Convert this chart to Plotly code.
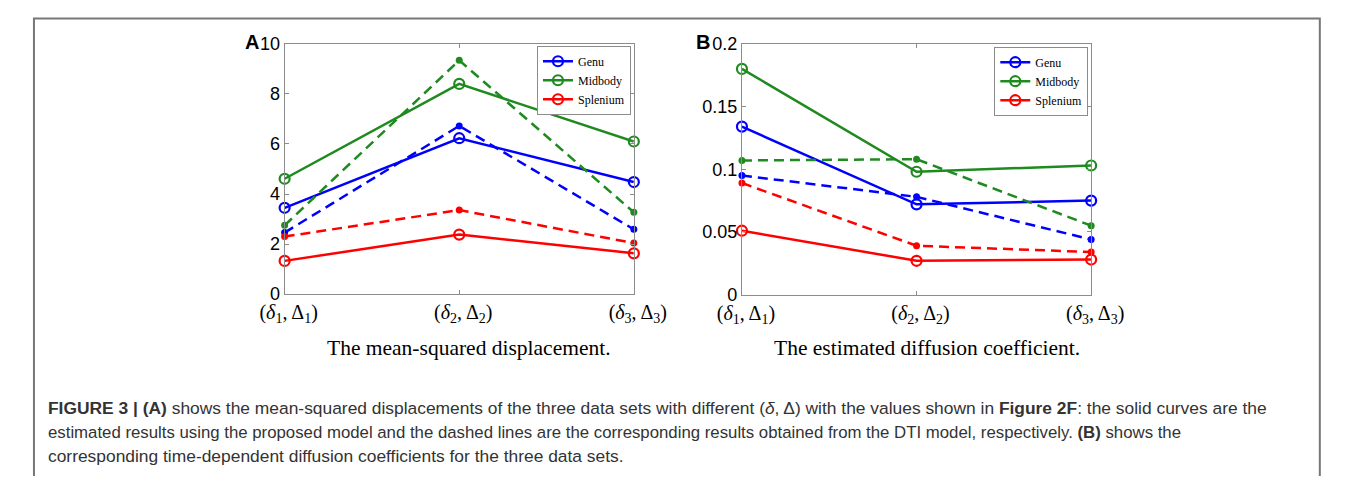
import plotly.graph_objects as go

# ---------------- data ----------------
x_pos = [1, 2, 3]
x_labels = ["(<i>δ</i><sub>1</sub>, Δ<sub>1</sub>)",
            "(<i>δ</i><sub>2</sub>, Δ<sub>2</sub>)",
            "(<i>δ</i><sub>3</sub>, Δ<sub>3</sub>)"]
series_names = ["Genu", "Midbody", "Splenium"]

# Panel A: mean-squared displacement
msd_model = {"Genu": [3.45, 6.23, 4.48],
             "Midbody": [4.61, 8.40, 6.10],
             "Splenium": [1.33, 2.38, 1.63]}
msd_dti = {"Genu": [2.46, 6.72, 2.59],
           "Midbody": [2.75, 9.34, 3.27],
           "Splenium": [2.30, 3.36, 2.04]}

# Panel B: estimated diffusion coefficient
dc_model = {"Genu": [0.134, 0.072, 0.075],
            "Midbody": [0.180, 0.098, 0.103],
            "Splenium": [0.051, 0.027, 0.028]}
dc_dti = {"Genu": [0.095, 0.078, 0.044],
          "Midbody": [0.107, 0.108, 0.055],
          "Splenium": [0.089, 0.039, 0.034]}

a_ticks = [0, 2, 4, 6, 8, 10]
b_ticks = [0, 0.05, 0.1, 0.15, 0.2]
b_ticktext = ["0", "0.05", "0.1", "0.15", "0.2"]

colors = {"Genu": "#0000ff", "Midbody": "#1f8a1f", "Splenium": "#ff0000"}

# figure size chosen so that the page (with the default 8px body margin) fits the window
OFF = 8
W, H = 1357 - 2 * OFF, 484 - 2 * OFF


def px(xp):
    return (xp - OFF) / W


def py(yp):
    return 1 - (yp - OFF) / H


fig = go.Figure()


def add_panel(model, dti, xa, ya, legend):
    for name in series_names:
        fig.add_trace(go.Scatter(
            x=x_pos, y=model[name], name=name, mode="lines+markers",
            line=dict(color=colors[name], width=2.5),
            marker=dict(symbol="circle-open", size=10, color=colors[name],
                        line=dict(width=2.2, color=colors[name])),
            xaxis=xa, yaxis=ya, legend=legend, cliponaxis=False))
    for name in series_names:
        fig.add_trace(go.Scatter(
            x=x_pos, y=dti[name], name=name + " (DTI)", mode="lines+markers",
            line=dict(color=colors[name], width=2.5, dash="10px,6px"),
            marker=dict(symbol="circle", size=7, color=colors[name]),
            xaxis=xa, yaxis=ya, showlegend=False, cliponaxis=False))


add_panel(msd_model, msd_dti, "x", "y", "legend")
add_panel(dc_model, dc_dti, "x2", "y2", "legend2")

axis_common = dict(showgrid=False, zeroline=False, showline=True,
                   linecolor="#8c8c8c", linewidth=1, mirror="ticks",
                   ticks="inside", ticklen=4, tickcolor="#8c8c8c")

xfont = dict(family="Liberation Serif", size=20, color="black")
yfont = dict(family="Liberation Sans", size=18, color="black")
legfont = dict(family="Liberation Serif", size=12, color="black")

fig.update_layout(
    width=W, height=H,
    margin=dict(l=0, r=0, t=0, b=0),
    paper_bgcolor="white", plot_bgcolor="white",
    xaxis=dict(domain=[px(271), px(636)], range=[1, 3], tickvals=x_pos,
               ticktext=x_labels, tickfont=xfont, anchor="y", ticklabelshift=4,
               **axis_common),
    yaxis=dict(domain=[py(296.5), py(35)], range=[0, 10], tickvals=a_ticks,
               tickfont=yfont, anchor="x", **axis_common),
    xaxis2=dict(domain=[px(749), px(1114)], range=[1, 3], tickvals=x_pos,
                ticktext=x_labels, tickfont=xfont, anchor="y2", ticklabelshift=4,
                **axis_common),
    yaxis2=dict(domain=[py(297), py(35)], range=[0, 0.2], tickvals=b_ticks,
                ticktext=b_ticktext, tickfont=yfont, anchor="x2", **axis_common),
    legend=dict(x=px(633), y=py(37), xanchor="right", yanchor="top",
                bgcolor="white", bordercolor="#8c8c8c", borderwidth=1,
                font=legfont, tracegroupgap=0, itemwidth=30),
    legend2=dict(x=px(1111), y=py(38), xanchor="right", yanchor="top",
                 bgcolor="white", bordercolor="#8c8c8c", borderwidth=1,
                 font=legfont, tracegroupgap=0, itemwidth=30),
    showlegend=True,
)

annots = []
# panel letters
annots.append(dict(text="<b>A</b>", x=px(246), y=py(33), xref="paper", yref="paper",
                   xanchor="right", yanchor="middle", showarrow=False,
                   font=dict(family="Liberation Sans", size=20, color="black")))
annots.append(dict(text="<b>B</b>", x=px(718), y=py(33), xref="paper", yref="paper",
                   xanchor="right", yanchor="middle", showarrow=False,
                   font=dict(family="Liberation Sans", size=20, color="black")))
# sub captions
annots.append(dict(text="The mean-squared displacement.", x=px(464), y=py(353),
                   xref="paper", yref="paper", xanchor="center", yanchor="middle",
                   showarrow=False,
                   font=dict(family="Liberation Serif", size=21.5, color="black")))
annots.append(dict(text="The estimated diffusion coefficient.", x=px(942), y=py(353),
                   xref="paper", yref="paper", xanchor="center", yanchor="middle",
                   showarrow=False,
                   font=dict(family="Liberation Serif", size=21.5, color="black")))

caption_lines = [
    "<b>FIGURE 3 | (A)</b> shows the mean-squared displacements of the three data sets with different (<i>δ</i>, Δ) with the values shown in <b>Figure 2F</b>: the solid curves are the",
    "estimated results using the proposed model and the dashed lines are the corresponding results obtained from the DTI model, respectively. <b>(B)</b> shows the",
    "corresponding time-dependent diffusion coefficients for the three data sets.",
]
caption_sizes = [17.4, 16.8, 17.4]
for i, line in enumerate(caption_lines):
    annots.append(dict(text=line, x=px(22), y=py(415.5 + 25 * i),
                       xref="paper", yref="paper", xanchor="left", yanchor="middle",
                       showarrow=False, align="left",
                       font=dict(family="Liberation Sans", size=caption_sizes[i],
                                 color="#333333")))

fig.update_layout(annotations=annots)

# outer frame
fig.add_shape(type="rect", xref="paper", yref="paper",
              x0=px(9), x1=px(1353), y0=-0.05, y1=py(8.5),
              line=dict(color="#777777", width=2), fillcolor="rgba(0,0,0,0)")

fig.write_html("out.html")
